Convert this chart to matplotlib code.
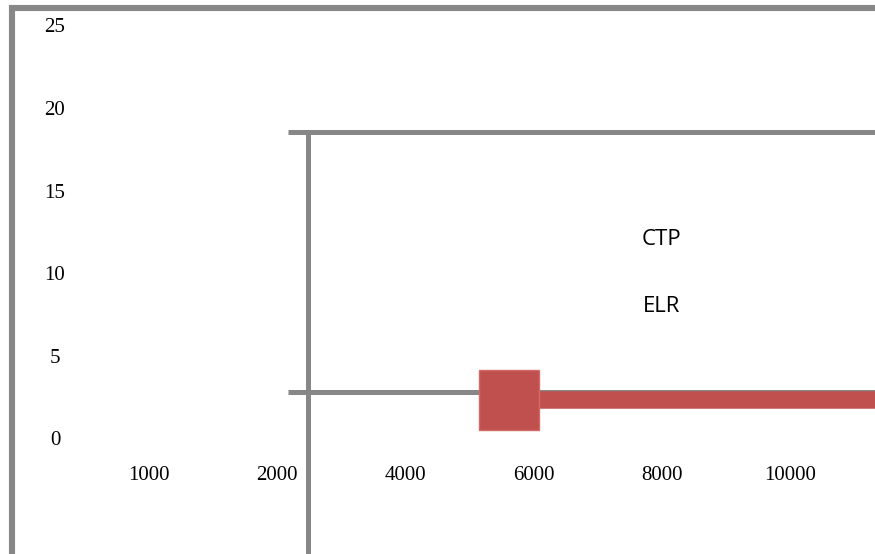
import matplotlib
matplotlib.use("Agg")
import matplotlib.pyplot as plt

# Data
x_labels = ["1000", "2000", "4000", "6000", "8000", "10000"]
y_labels = ["0", "5", "10", "15", "20", "25"]
y_values = [0, 5, 10, 15, 20, 25]
series_names = ["CTP", "ELR"]
elr_x = [2.81, 7.0]
elr_y = [2.48, 2.48]
ctp_level = 2.97
upper_level = 18.7

GRAY = "#878787"
RED = "#C0504D"

fig = plt.figure(figsize=(8.75, 5.54), dpi=100)
ax = fig.add_axes([0, 0, 1, 1])
ax.set_xlim(-1.165, 5.666)
ax.set_ylim(-6.84, 26.69)
ax.axis("off")

# outer frame (left + top)
ax.plot([-1.071, -1.071, 7], [-10, 26.2, 26.2], color=GRAY, lw=4.4,
        solid_joinstyle="miter", solid_capstyle="butt")
# inner frame
ax.plot([1.239, 1.239], [-10, upper_level], color=GRAY, lw=3.6, solid_capstyle="butt")
ax.plot([1.083, 7], [upper_level, upper_level], color=GRAY, lw=3.6, solid_capstyle="butt")
ax.plot([1.083, 7], [ctp_level, ctp_level], color=GRAY, lw=3.6, solid_capstyle="butt")

# red series
ax.plot(elr_x, elr_y, color=RED, lw=12.6, solid_capstyle="butt")
ax.plot(elr_x[:1], elr_y[:1], marker="s", ms=43, color=RED,
        markeredgecolor="#D46A67", markeredgewidth=1.0, linestyle="none")

# tick labels
for v, lab in zip(y_values, y_labels):
    ax.text(-0.736, v, lab, ha="center", va="center", fontsize=15,
            family="Liberation Serif", color="black")
for i, lab in enumerate(x_labels):
    ax.text(i, -2.06, lab, ha="center", va="center", fontsize=15,
            family="Liberation Serif", color="black")

# series labels
ax.text(4.0, (441 - 240) / 16.52, series_names[0], ha="center", va="center",
        fontsize=16, family="Open Sans", color="black")
ax.text(4.0, (441 - 307) / 16.52, series_names[1], ha="center", va="center",
        fontsize=16, family="Open Sans", color="black")

fig.savefig("out.png", dpi=100, facecolor="white")
